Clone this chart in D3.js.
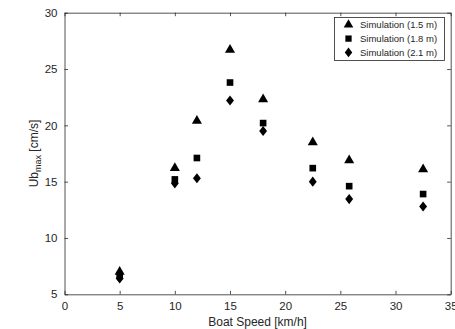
<!DOCTYPE html>
<html>
<head>
<meta charset="utf-8">
<script src="https://cdn.jsdelivr.net/npm/d3@7"></script>
<style>
  body { margin: 0; background: #fff; }
  svg { display: block; font-family: 'Liberation Sans', Arial, sans-serif; }
</style>
</head>
<body>
<div id="chart"></div>
<script>
// boat speeds (km/h)
const speeds = [5, 10, 12, 15, 18, 22.5, 25.8, 32.5]
// Ub_max (cm/s) per keel depth
const sim15 = [7.0, 16.2, 20.4, 26.7, 22.3, 18.5, 16.9, 16.1]
const sim18 = [6.7, 15.2, 17.1, 23.8, 20.2, 16.2, 14.6, 13.9]
const sim21 = [6.4, 14.85, 15.3, 22.2, 19.5, 15.0, 13.45, 12.8]
const seriesNames = ['Simulation (1.5 m)', 'Simulation (1.8 m)', 'Simulation (2.1 m)']
const xTicks = [0, 5, 10, 15, 20, 25, 30, 35]
const yTicks = [5, 10, 15, 20, 25, 30]

const width = 455
const height = 329
const margin = { top: 12.7, right: 4.3, bottom: 34.7, left: 64.5 }
const ink = '#262626'

const svg = d3.select('#chart')
  .append('svg')
  .attr('width', width)
  .attr('height', height)

const x = d3.scaleLinear().domain([0, 35]).range([margin.left, width - margin.right])
const y = d3.scaleLinear().domain([5, 30]).range([height - margin.bottom, margin.top])

// axes, ticks pointing inward (box on)
const tickLen = 3.5
svg.append('g')
  .attr('transform', `translate(0,${y(5)})`)
  .call(d3.axisBottom(x).tickValues(xTicks).tickSizeInner(-tickLen).tickSizeOuter(0).tickPadding(8))
svg.append('g')
  .attr('transform', `translate(0,${y(30)})`)
  .call(d3.axisTop(x).tickValues(xTicks).tickSizeInner(-tickLen).tickSizeOuter(0).tickFormat(''))
svg.append('g')
  .attr('transform', `translate(${x(0)},0)`)
  .call(d3.axisLeft(y).tickValues(yTicks).tickSizeInner(-tickLen).tickSizeOuter(0).tickPadding(7))
svg.append('g')
  .attr('transform', `translate(${x(35)},0)`)
  .call(d3.axisRight(y).tickValues(yTicks).tickSizeInner(-tickLen).tickSizeOuter(0).tickFormat(''))

svg.selectAll('.domain').attr('stroke', ink).attr('stroke-width', 0.8)
svg.selectAll('.tick line').attr('stroke', ink).attr('stroke-width', 0.8)
svg.selectAll('.tick text')
  .attr('fill', ink)
  .attr('font-size', '11.5px')
  .attr('font-family', 'Liberation Sans, Arial, sans-serif')

// axis labels
svg.append('text')
  .attr('x', x(17.5))
  .attr('y', 326)
  .attr('text-anchor', 'middle')
  .attr('font-size', '12px')
  .attr('fill', ink)
  .text('Boat Speed [km/h]')

const ylab = svg.append('text')
  .attr('transform', `translate(38,${y(17.5)}) rotate(-90)`)
  .attr('text-anchor', 'middle')
  .attr('font-size', '12px')
  .attr('fill', ink)
ylab.append('tspan').text('Ub')
ylab.append('tspan').attr('font-size', '9px').attr('dy', 3).text('max')
ylab.append('tspan').attr('dy', -3).text(' [cm/s]')

// MATLAB-ish diamond: a bit wider than d3's
const diamond = {
  draw(ctx, size) {
    const h = Math.sqrt(size) * 0.8
    const w = h * 0.78
    ctx.moveTo(0, -h)
    ctx.lineTo(w, 0)
    ctx.lineTo(0, h)
    ctx.lineTo(-w, 0)
    ctx.closePath()
  }
}

// markers
const shapes = [d3.symbolTriangle, d3.symbolSquare, diamond]
const sizes = [44, 44, 40]
const series = [sim15, sim18, sim21]

series.forEach((vals, i) => {
  svg.append('g')
    .selectAll('path')
    .data(vals.map((v, j) => ({ x: speeds[j], y: v })))
    .enter()
    .append('path')
    .attr('d', d3.symbol().type(shapes[i]).size(sizes[i]))
    .attr('transform', (d) => `translate(${x(d.x)},${y(d.y)})`)
    .attr('fill', '#000')
})

// legend
const legend = svg.append('g').attr('transform', 'translate(334.5,17.5)')
legend.append('rect')
  .attr('width', 110)
  .attr('height', 43)
  .attr('fill', '#fff')
  .attr('stroke', ink)
  .attr('stroke-width', 0.8)

seriesNames.forEach((name, i) => {
  const row = legend.append('g').attr('transform', `translate(0,${7.3 + i * 13.8})`)
  row.append('path')
    .attr('d', d3.symbol().type(shapes[i]).size(sizes[i] * 0.9))
    .attr('transform', 'translate(14,0)')
    .attr('fill', '#000')
  row.append('text')
    .attr('x', 25.5)
    .attr('y', 0)
    .attr('dy', '0.35em')
    .attr('font-size', '9.5px')
    .attr('fill', ink)
    .text(name)
})
</script>
</body>
</html>
